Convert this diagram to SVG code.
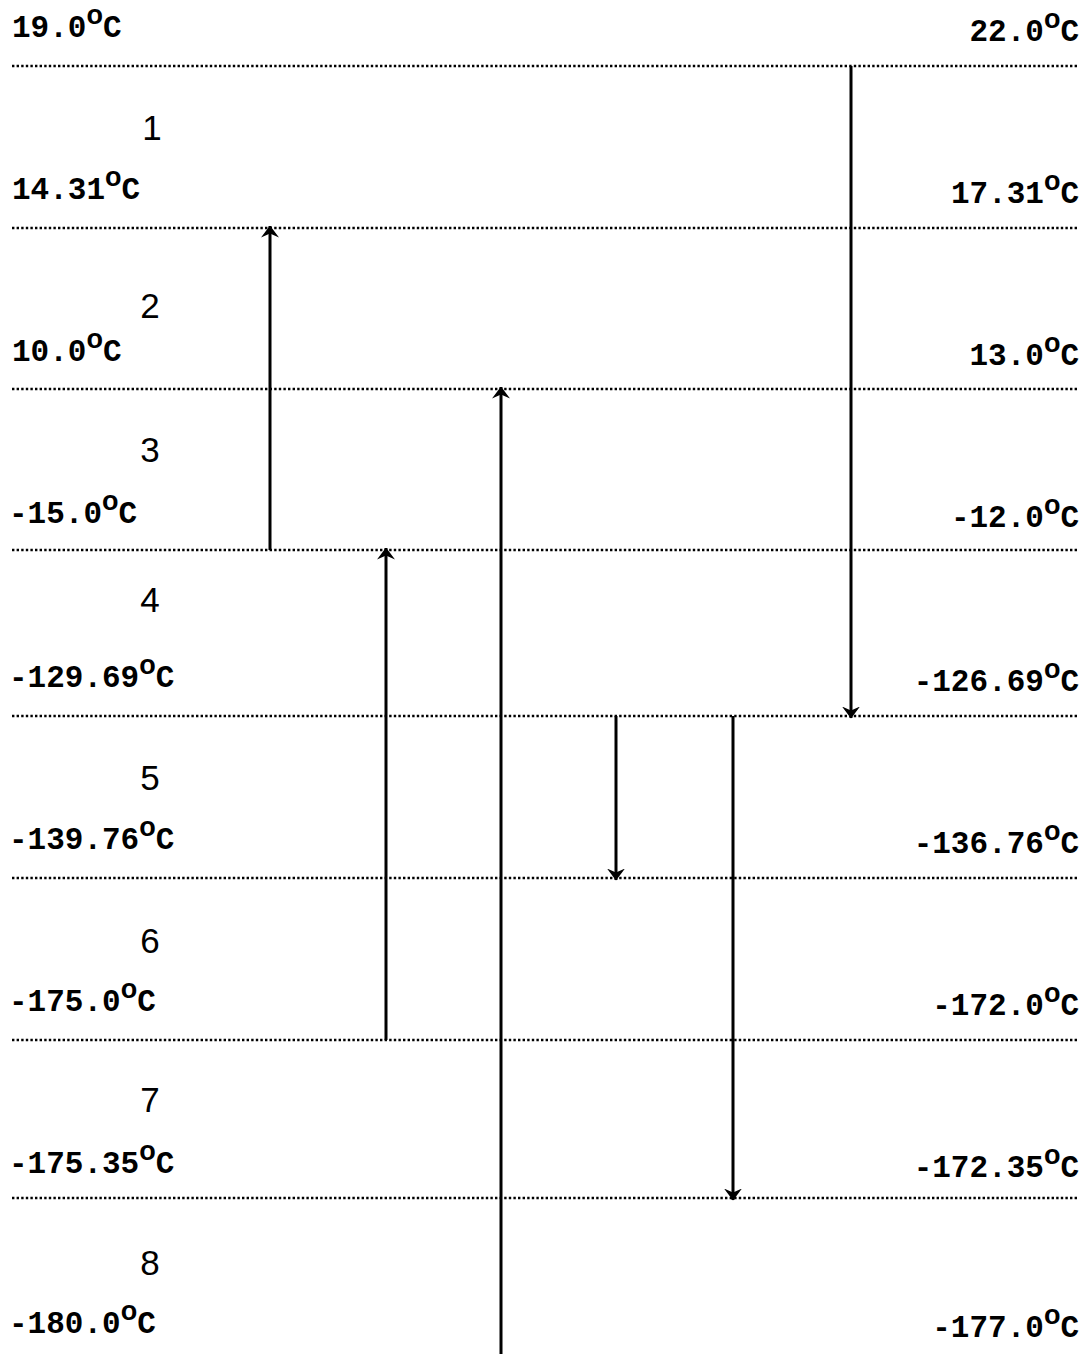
<svg xmlns="http://www.w3.org/2000/svg" width="1088" height="1354" viewBox="0 0 1088 1354">
<style>
.bg{fill:#fff}
.lvl{stroke:#000;stroke-width:2.4;stroke-dasharray:2.4 2.2;fill:none}
.t{font-family:"Liberation Mono","Courier New",monospace;font-weight:bold;font-size:31px;fill:#000}
.deg{font-size:27px;font-family:"Liberation Sans",Arial,sans-serif;font-weight:bold}
.r{text-anchor:end}
.n{font-family:"Liberation Sans",Arial,sans-serif;font-size:35px;fill:#000;text-anchor:middle}
.arr{stroke:#000;stroke-width:3;fill:none}
</style>
<defs>
<marker id="ah" viewBox="0 0 12 18" refX="11.5" refY="9" markerWidth="12" markerHeight="18" markerUnits="userSpaceOnUse" orient="auto">
<path d="M0,0 L12,9 L0,18 L4,9 Z" fill="#000"/>
</marker>
</defs>
<rect class="bg" x="0" y="0" width="1088" height="1354"/>
<g id="levels">
<line class="lvl" x1="12" y1="66" x2="1078" y2="66"/>
<line class="lvl" x1="12" y1="228" x2="1078" y2="228"/>
<line class="lvl" x1="12" y1="389" x2="1078" y2="389"/>
<line class="lvl" x1="12" y1="550" x2="1078" y2="550"/>
<line class="lvl" x1="12" y1="716" x2="1078" y2="716"/>
<line class="lvl" x1="12" y1="878" x2="1078" y2="878"/>
<line class="lvl" x1="12" y1="1040" x2="1078" y2="1040"/>
<line class="lvl" x1="12" y1="1198" x2="1078" y2="1198"/>
</g>
<g id="left-labels">
<text class="t" x="12" y="37">19.0<tspan class="deg" dy="-13">o</tspan><tspan dy="13">C</tspan></text>
<text class="t" x="12" y="199">14.31<tspan class="deg" dy="-13">o</tspan><tspan dy="13">C</tspan></text>
<text class="t" x="12" y="361">10.0<tspan class="deg" dy="-13">o</tspan><tspan dy="13">C</tspan></text>
<text class="t" x="9" y="523">-15.0<tspan class="deg" dy="-13">o</tspan><tspan dy="13">C</tspan></text>
<text class="t" x="9" y="687">-129.69<tspan class="deg" dy="-13">o</tspan><tspan dy="13">C</tspan></text>
<text class="t" x="9" y="849">-139.76<tspan class="deg" dy="-13">o</tspan><tspan dy="13">C</tspan></text>
<text class="t" x="9" y="1011">-175.0<tspan class="deg" dy="-13">o</tspan><tspan dy="13">C</tspan></text>
<text class="t" x="9" y="1173">-175.35<tspan class="deg" dy="-13">o</tspan><tspan dy="13">C</tspan></text>
<text class="t" x="9" y="1333">-180.0<tspan class="deg" dy="-13">o</tspan><tspan dy="13">C</tspan></text>
</g>
<g id="right-labels">
<text class="t r" x="1079" y="41">22.0<tspan class="deg" dy="-13">o</tspan><tspan dy="13">C</tspan></text>
<text class="t r" x="1079" y="203">17.31<tspan class="deg" dy="-13">o</tspan><tspan dy="13">C</tspan></text>
<text class="t r" x="1079" y="365">13.0<tspan class="deg" dy="-13">o</tspan><tspan dy="13">C</tspan></text>
<text class="t r" x="1079" y="527">-12.0<tspan class="deg" dy="-13">o</tspan><tspan dy="13">C</tspan></text>
<text class="t r" x="1079" y="691">-126.69<tspan class="deg" dy="-13">o</tspan><tspan dy="13">C</tspan></text>
<text class="t r" x="1079" y="853">-136.76<tspan class="deg" dy="-13">o</tspan><tspan dy="13">C</tspan></text>
<text class="t r" x="1079" y="1015">-172.0<tspan class="deg" dy="-13">o</tspan><tspan dy="13">C</tspan></text>
<text class="t r" x="1079" y="1177">-172.35<tspan class="deg" dy="-13">o</tspan><tspan dy="13">C</tspan></text>
<text class="t r" x="1079" y="1337">-177.0<tspan class="deg" dy="-13">o</tspan><tspan dy="13">C</tspan></text>
</g>
<g id="numbers">
<text class="n" x="152" y="140">1</text>
<text class="n" x="150" y="318">2</text>
<text class="n" x="150" y="462">3</text>
<text class="n" x="150" y="612">4</text>
<text class="n" x="150" y="790">5</text>
<text class="n" x="150" y="953">6</text>
<text class="n" x="150" y="1112">7</text>
<text class="n" x="150" y="1275">8</text>
</g>
<g id="connectors">
<line class="arr" x1="851" y1="66" x2="851" y2="718" marker-end="url(#ah)"/>
<line class="arr" x1="270" y1="550" x2="270" y2="226" marker-end="url(#ah)"/>
<line class="arr" x1="386" y1="1040" x2="386" y2="548" marker-end="url(#ah)"/>
<line class="arr" x1="501" y1="1354" x2="501" y2="387" marker-end="url(#ah)"/>
<line class="arr" x1="616" y1="716" x2="616" y2="880" marker-end="url(#ah)"/>
<line class="arr" x1="733" y1="716" x2="733" y2="1200" marker-end="url(#ah)"/>
</g>
</svg>
